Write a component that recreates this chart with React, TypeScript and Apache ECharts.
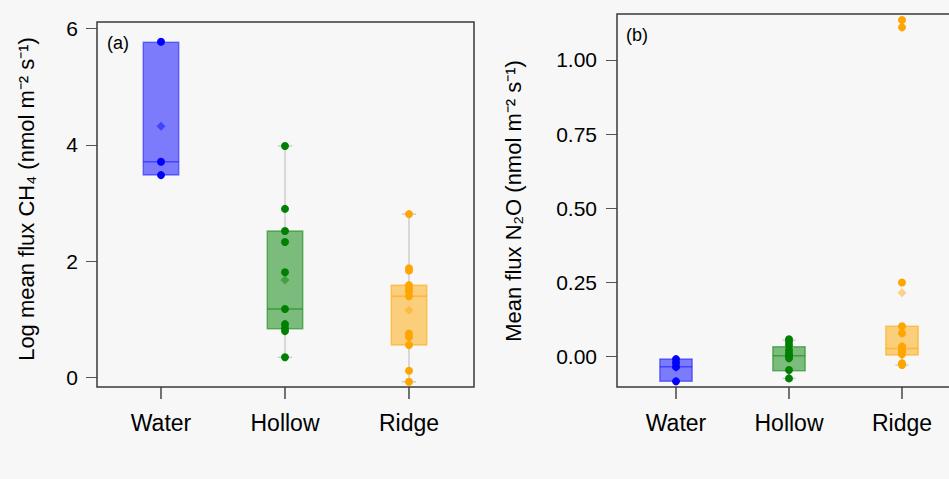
import React, { useEffect, useRef } from 'react';
import * as echarts from 'echarts';

// ---------- data ----------
const categories = ['Water', 'Hollow', 'Ridge'];

// (a) log mean CH4 flux: individual points
const ch4Water = [5.77, 3.71, 3.48];
const ch4Hollow = [3.98, 2.9, 2.52, 2.33, 1.81, 1.18, 0.92, 0.85, 0.8, 0.35];
const ch4Ridge = [2.81, 1.88, 1.84, 1.59, 1.535, 1.48, 1.4, 0.76, 0.7, 0.56, 0.12, -0.07];
// (a) box statistics
const ch4WhiskerLow = [3.48, 0.35, -0.07];
const ch4Q1 = [3.48, 0.84, 0.56];
const ch4Median = [3.71, 1.18, 1.4];
const ch4Q3 = [5.76, 2.52, 1.59];
const ch4WhiskerHigh = [5.76, 3.98, 2.81];
const ch4Mean = [4.32, 1.68, 1.16];
const ch4Ticks = [0, 2, 4, 6];

// (b) mean N2O flux: individual points
const n2oWater = [-0.008, -0.02, -0.034, -0.083];
const n2oHollow = [0.059, 0.051, 0.039, 0.023, 0.011, 0.003, -0.005, -0.045, -0.073];
const n2oRidge = [1.135, 1.11, 0.25, 0.103, 0.079, 0.035, 0.028, 0.022, 0.015, 0.008, -0.022, -0.028];
// (b) box statistics
const n2oWhiskerLow = [-0.083, -0.073, -0.028];
const n2oQ1 = [-0.083, -0.047, 0.006];
const n2oMedian = [-0.034, 0.003, 0.028];
const n2oQ3 = [-0.008, 0.034, 0.103];
const n2oWhiskerHigh = [-0.008, 0.056, 0.103];
const n2oMean = [-0.036, 0.005, 0.216];
const n2oTicks = [0, 0.25, 0.5, 0.75, 1.0];

const ch4Title = 'Log mean flux CH\u2084 (nmol m\u207B\u00B2 s\u207B\u00B9)';
const n2oTitle = 'Mean flux N\u2082O (nmol m\u207B\u00B2 s\u207B\u00B9)';

// ---------- styles ----------
const FONT = "'Liberation Sans', Arial, sans-serif";
const groupColors = ['#0000ff', '#008000', '#ffa500'];
const groupFill = ['rgba(0,0,255,0.5)', 'rgba(0,128,0,0.5)', 'rgba(255,165,0,0.5)'];
const groupStroke = ['rgba(0,0,255,0.45)', 'rgba(0,128,0,0.5)', 'rgba(255,165,0,0.55)'];
const WHISKER = '#c8c8c8';
const FRAME = '#3a3a3a';

function boxSeries(axis: number, low: number[], q1: number[], med: number[], q3: number[], high: number[]) {
  const data = categories.map((_, i) => [i, low[i], q1[i], med[i], q3[i], high[i]]);
  return {
    type: 'custom',
    xAxisIndex: axis,
    yAxisIndex: axis,
    z: 2,
    clip: false,
    data,
    encode: { x: 0, y: [1, 2, 3, 4, 5] },
    renderItem: (params: any, api: any) => {
      const idx = params.dataIndex;
      const x = idx;
      const unit = api.size([1, 0])[0];
      const hb = unit * 0.143;
      const hc = unit * 0.058;
      const pLow = api.coord([x, api.value(1)]);
      const pQ1 = api.coord([x, api.value(2)]);
      const pMed = api.coord([x, api.value(3)]);
      const pQ3 = api.coord([x, api.value(4)]);
      const pHigh = api.coord([x, api.value(5)]);
      const cx = pQ1[0];
      const wStyle = { stroke: WHISKER, lineWidth: 1.3 };
      const children: any[] = [];
      if (pLow[1] - pQ1[1] > 0.5) {
        children.push({ type: 'line', shape: { x1: cx, y1: pLow[1], x2: cx, y2: pQ1[1] }, style: wStyle });
        children.push({ type: 'line', shape: { x1: cx - hc, y1: pLow[1], x2: cx + hc, y2: pLow[1] }, style: wStyle });
      }
      if (pQ3[1] - pHigh[1] > 0.5) {
        children.push({ type: 'line', shape: { x1: cx, y1: pQ3[1], x2: cx, y2: pHigh[1] }, style: wStyle });
        children.push({ type: 'line', shape: { x1: cx - hc, y1: pHigh[1], x2: cx + hc, y2: pHigh[1] }, style: wStyle });
      }
      children.push({
        type: 'rect',
        shape: { x: cx - hb, y: pQ3[1], width: hb * 2, height: pQ1[1] - pQ3[1] },
        style: { fill: groupFill[idx], stroke: groupStroke[idx], lineWidth: 1.5 },
      });
      children.push({
        type: 'line',
        shape: { x1: cx - hb, y1: pMed[1], x2: cx + hb, y2: pMed[1] },
        style: { stroke: groupStroke[idx], lineWidth: 1.5 },
      });
      return { type: 'group', children };
    },
  };
}

// category tick marks below each panel, placed through the category axis
function xTickSeries(axis: number) {
  return {
    type: 'custom',
    xAxisIndex: axis,
    yAxisIndex: axis,
    z: 1,
    clip: false,
    silent: true,
    data: categories.map((_, i) => [i, 0]),
    encode: { x: 0, y: 1 },
    renderItem: (params: any, api: any) => {
      const cs = params.coordSys;
      const bottom = cs.y + cs.height;
      const cx = api.coord([params.dataIndex, 0])[0];
      return {
        type: 'rect',
        shape: { x: cx - 0.7, y: bottom, width: 1.4, height: 12 },
        style: { fill: FRAME },
      };
    },
  };
}

function pointSeries(axis: number, groups: number[][], means: number[]) {
  const out: any[] = [];
  groups.forEach((vals, i) => {
    out.push({
      type: 'scatter',
      xAxisIndex: axis,
      yAxisIndex: axis,
      z: 4,
      symbol: 'diamond',
      symbolSize: 9,
      itemStyle: { color: groupColors[i], opacity: 0.45 },
      data: [[i, means[i]]],
    });
    out.push({
      type: 'scatter',
      xAxisIndex: axis,
      yAxisIndex: axis,
      z: 5,
      symbol: 'circle',
      symbolSize: 8,
      itemStyle: { color: groupColors[i], opacity: 1 },
      data: vals.map((v) => [i, v]),
    });
  });
  return out;
}

function xAxis(grid: number) {
  return {
    type: 'category',
    gridIndex: grid,
    position: 'bottom',
    data: categories,
    boundaryGap: true,
    splitLine: { show: false },
    axisLine: { show: false, onZero: false },
    axisTick: { show: false },
    axisLabel: {
      fontSize: 23,
      fontFamily: FONT,
      color: '#000',
      margin: 24,
    },
  };
}

function yAxis(grid: number, min: number, max: number, ticks: number[], digits: number, margin: number, offset: number) {
  return {
    type: 'value',
    gridIndex: grid,
    position: 'left',
    min,
    max,
    offset,
    splitLine: { show: false },
    axisLine: { show: false, onZero: false },
    axisTick: { show: true, length: 11, customValues: ticks, lineStyle: { color: '#555', width: 1 } },
    axisLabel: {
      customValues: ticks,
      formatter: (v: number) => v.toFixed(digits),
      fontSize: 21,
      fontFamily: FONT,
      color: '#000',
      margin,
    },
  };
}

function frameRect(x: number, y: number, w: number, h: number) {
  return {
    type: 'rect',
    z: 10,
    shape: { x, y, width: w, height: h },
    style: { fill: 'none', stroke: FRAME, lineWidth: 1.5 },
    silent: true,
  };
}

export default function App() {
  const ref = useRef<HTMLDivElement>(null);
  useEffect(() => {
    if (!ref.current) return;
    const chart = echarts.init(ref.current, undefined, { renderer: 'svg' });
    const option: any = {
      animation: false,
      backgroundColor: '#f7f7f7',
      grid: [
        { left: 99, top: 22, width: 372, height: 365, show: false, containLabel: false, outerBoundsMode: 'none' },
        { left: 619.5, top: 14, width: 339, height: 373, show: false, containLabel: false, outerBoundsMode: 'none' },
      ],
      xAxis: [xAxis(0), xAxis(1)],
      yAxis: [
        yAxis(0, -0.16, 6.11, ch4Ticks, 0, 19, 2),
        yAxis(1, -0.102, 1.155, n2oTicks, 2, 20, 2.5),
      ],
      graphic: [
        frameRect(97, 22, 377, 365),
        frameRect(617, 14, 345, 373),
        {
          type: 'text', x: 26, y: 199, rotation: Math.PI / 2,
          style: { text: ch4Title, fontSize: 22, fontFamily: FONT, fill: '#000', textAlign: 'center', textVerticalAlign: 'middle', align: 'center', verticalAlign: 'middle' },
        },
        {
          type: 'text', x: 513, y: 201, rotation: Math.PI / 2,
          style: { text: n2oTitle, fontSize: 22, fontFamily: FONT, fill: '#000', textAlign: 'center', textVerticalAlign: 'middle', align: 'center', verticalAlign: 'middle' },
        },
        {
          type: 'text', x: 118, y: 43,
          style: { text: '(a)', fontSize: 18, fontFamily: FONT, fill: '#000', textAlign: 'center', textVerticalAlign: 'middle', align: 'center', verticalAlign: 'middle' },
        },
        {
          type: 'text', x: 637, y: 35,
          style: { text: '(b)', fontSize: 18, fontFamily: FONT, fill: '#000', textAlign: 'center', textVerticalAlign: 'middle', align: 'center', verticalAlign: 'middle' },
        },
      ],
      series: [
        xTickSeries(0),
        xTickSeries(1),
        boxSeries(0, ch4WhiskerLow, ch4Q1, ch4Median, ch4Q3, ch4WhiskerHigh),
        ...pointSeries(0, [ch4Water, ch4Hollow, ch4Ridge], ch4Mean),
        boxSeries(1, n2oWhiskerLow, n2oQ1, n2oMedian, n2oQ3, n2oWhiskerHigh),
        ...pointSeries(1, [n2oWater, n2oHollow, n2oRidge], n2oMean),
      ],
    };
    chart.setOption(option);
    return () => chart.dispose();
  }, []);
  return <div ref={ref} style={{ position: 'fixed', left: 0, top: 0, width: 949, height: 479 }} />;
}
